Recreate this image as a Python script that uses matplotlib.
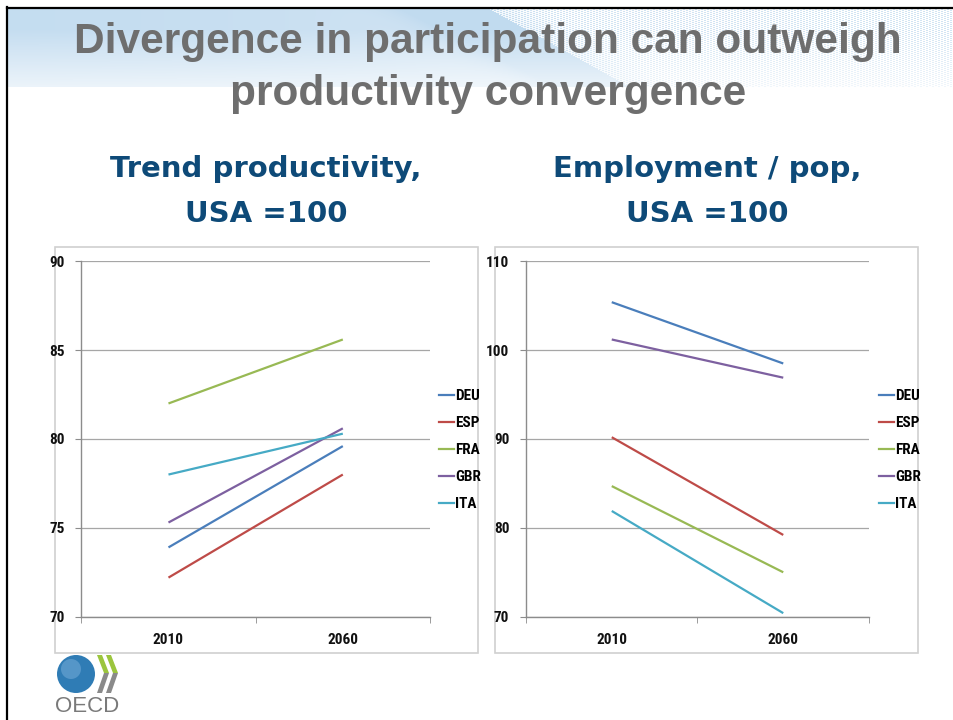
import matplotlib
matplotlib.use("Agg")
import matplotlib.pyplot as plt
import numpy as np
from matplotlib import font_manager
from matplotlib.patches import Circle, Polygon, Rectangle
from matplotlib.lines import Line2D

# Series values, index 0 = 2010, index 1 = 2060
years = ["2010", "2060"]
countries = ["DEU", "ESP", "FRA", "GBR", "ITA"]

productivity_deu = [73.9, 79.6]
productivity_esp = [72.2, 78.0]
productivity_fra = [82.0, 85.6]
productivity_gbr = [75.3, 80.6]
productivity_ita = [78.0, 80.3]

employment_deu = [105.4, 98.5]
employment_esp = [90.2, 79.2]
employment_fra = [84.7, 75.0]
employment_gbr = [101.2, 96.9]
employment_ita = [81.9, 70.4]

productivity_ticks = [70, 75, 80, 85, 90]
employment_ticks = [70, 80, 90, 100, 110]

colors = {
    "DEU": "#4a7ebb",
    "ESP": "#be4b48",
    "FRA": "#98b954",
    "GBR": "#7d60a0",
    "ITA": "#46aac5",
}

W, H = 954, 720

# pick a narrow face for the axis labels if one is around
installed = {f.name for f in font_manager.fontManager.ttflist}
narrow = next((n for n in ["Roboto Condensed", "Liberation Sans Narrow",
                           "Open Sans Condensed", "Noto Sans Condensed"]
               if n in installed), "Liberation Sans")
NARROW = [narrow, "DejaVu Sans"]
TICK_SIZE = 11 if narrow != "Liberation Sans" else 9.5


def fx(px):
    return px / W


def fy(py):
    return 1 - py / H


fig = plt.figure(figsize=(W / 100, H / 100), dpi=100)
fig.patch.set_facecolor("white")

# header band: soft blue wash on the left, fine diagonal hatching on the right
hdr = fig.add_axes([fx(8), fy(87), fx(W - 8), (87 - 8) / H])
hdr.set_axis_off()
xx, yy = np.meshgrid(np.arange(W - 8), np.arange(79))
edge = 480 + 1.8 * yy
left = xx < edge
wash = np.clip(1 - (xx / 750.0) ** 2, 0, 1) * 0.6 + 0.35
band = np.exp(-((xx - edge + 30) / 55.0) ** 2) * 0.7
stripes = (np.mod(xx + 3.0 * yy, 6) < 1.6).astype(float) * 0.75
strength = np.where(left, np.clip(wash + band, 0, 1),
                    np.clip(stripes + band * 0.4, 0, 1))
strength *= np.clip(1.25 - yy / 85.0, 0, 1)
base = np.array([0.76, 0.86, 0.94])
img = 1 - strength[..., None] * (1 - base)
hdr.imshow(img, aspect="auto", extent=(0, 1, 0, 1), interpolation="bilinear")

# slide frame
fig.add_artist(Line2D([fx(7), 1], [fy(7.5), fy(7.5)], color="black", lw=1.6))
fig.add_artist(Line2D([fx(7.5), fx(7.5)], [fy(7), 0], color="black", lw=1.6))

for y, line in [(42, "Divergence in participation can outweigh"),
                (94, "productivity convergence")]:
    fig.text(fx(488), fy(y), line, ha="center", va="center", fontsize=30.5,
             fontweight="bold", family="Liberation Sans", color="#6e6e6e")

for cx, head in [(266, "Trend productivity,"), (707, "Employment / pop,")]:
    fig.text(fx(cx), fy(169), head, ha="center", va="center", fontsize=21,
             fontweight="bold", family="DejaVu Sans", color="#0e4a78")
    fig.text(fx(cx), fy(214), "USA =100", ha="center", va="center",
             fontsize=21, fontweight="bold", family="DejaVu Sans",
             color="#0e4a78")

# chart frames, kept underneath the plot areas
for x0, x1 in [(55, 478), (495, 918)]:
    frame = Rectangle((fx(x0), fy(653)), fx(x1 - x0), (653 - 247) / H,
                      fill=False, edgecolor="#d0d0d0", lw=1.2, zorder=-1)
    fig.add_artist(frame)


def draw_panel(rect, series, ticks, legend_x):
    ax = fig.add_axes(rect)
    ax.patch.set_alpha(0)
    x = np.arange(len(years))
    for name, vals in zip(countries, series):
        ax.plot(x, vals, color=colors[name], lw=1.6, solid_capstyle="butt")
    ax.set_xlim(-0.5, len(years) - 0.5)
    ax.set_ylim(ticks[0], ticks[-1])
    ax.set_yticks(ticks)
    ax.set_xticks(x)
    ax.set_xticklabels(years)
    ax.set_xticks(np.arange(-0.5, len(years)), minor=True)
    ax.tick_params(axis="x", which="major", length=0, pad=12)
    ax.tick_params(axis="x", which="minor", length=4, color="#8c8c8c", direction="out")
    ax.tick_params(axis="y", length=4, color="#8c8c8c", direction="out", pad=8)
    for lab in ax.get_xticklabels() + ax.get_yticklabels():
        lab.set_family(NARROW)
        lab.set_fontweight("bold")
        lab.set_fontsize(TICK_SIZE)
        lab.set_color("#111111")
    ax.grid(axis="y", color="#a6a6a6", lw=0.9)
    ax.set_axisbelow(True)
    for side in ["top", "right"]:
        ax.spines[side].set_visible(False)
    for side in ["left", "bottom"]:
        ax.spines[side].set_color("#8c8c8c")
        ax.spines[side].set_linewidth(1.0)
    handles = [Line2D([], [], color=colors[c], lw=1.6) for c in countries]
    fig.legend(handles, countries, loc="center left",
               bbox_to_anchor=(fx(legend_x), fy(450)),
               frameon=False, handlelength=1.0, handletextpad=0.05,
               labelspacing=0.85, borderaxespad=0, borderpad=0,
               prop={"family": NARROW, "weight": "bold", "size": TICK_SIZE})
    return ax


draw_panel([fx(81.3), fy(616.7), fx(430 - 81.3), (616.7 - 261.3) / H],
           [productivity_deu, productivity_esp, productivity_fra,
            productivity_gbr, productivity_ita],
           productivity_ticks, 439)
draw_panel([fx(526), fy(616.7), fx(869 - 526), (616.7 - 261.3) / H],
           [employment_deu, employment_esp, employment_fra,
            employment_gbr, employment_ita],
           employment_ticks, 879)

# OECD logo: globe, two chevrons, wordmark
logo = fig.add_axes([0, 0, 1, 1], zorder=5)
logo.set_xlim(0, W)
logo.set_ylim(H, 0)
logo.set_axis_off()
logo.patch.set_alpha(0)
logo.add_patch(Circle((76, 674), 19, facecolor="#2f7cb5", edgecolor="none"))
logo.add_patch(Circle((71, 669), 10, facecolor="#6fa8d6", edgecolor="none", alpha=0.6))
for ox in (97, 106):
    logo.add_patch(Polygon([(ox, 655), (ox + 5, 655), (ox + 12, 673), (ox + 7, 673)],
                           closed=True, facecolor="#9bc53d", edgecolor="none"))
    logo.add_patch(Polygon([(ox + 7, 673), (ox + 12, 673), (ox + 5, 693), (ox, 693)],
                           closed=True, facecolor="#8a8a8a", edgecolor="none"))
logo.text(87, 707, "OECD", ha="center", va="center", fontsize=16,
          family="Liberation Sans", color="#7a7a7a")

fig.savefig("out.png", dpi=100)
